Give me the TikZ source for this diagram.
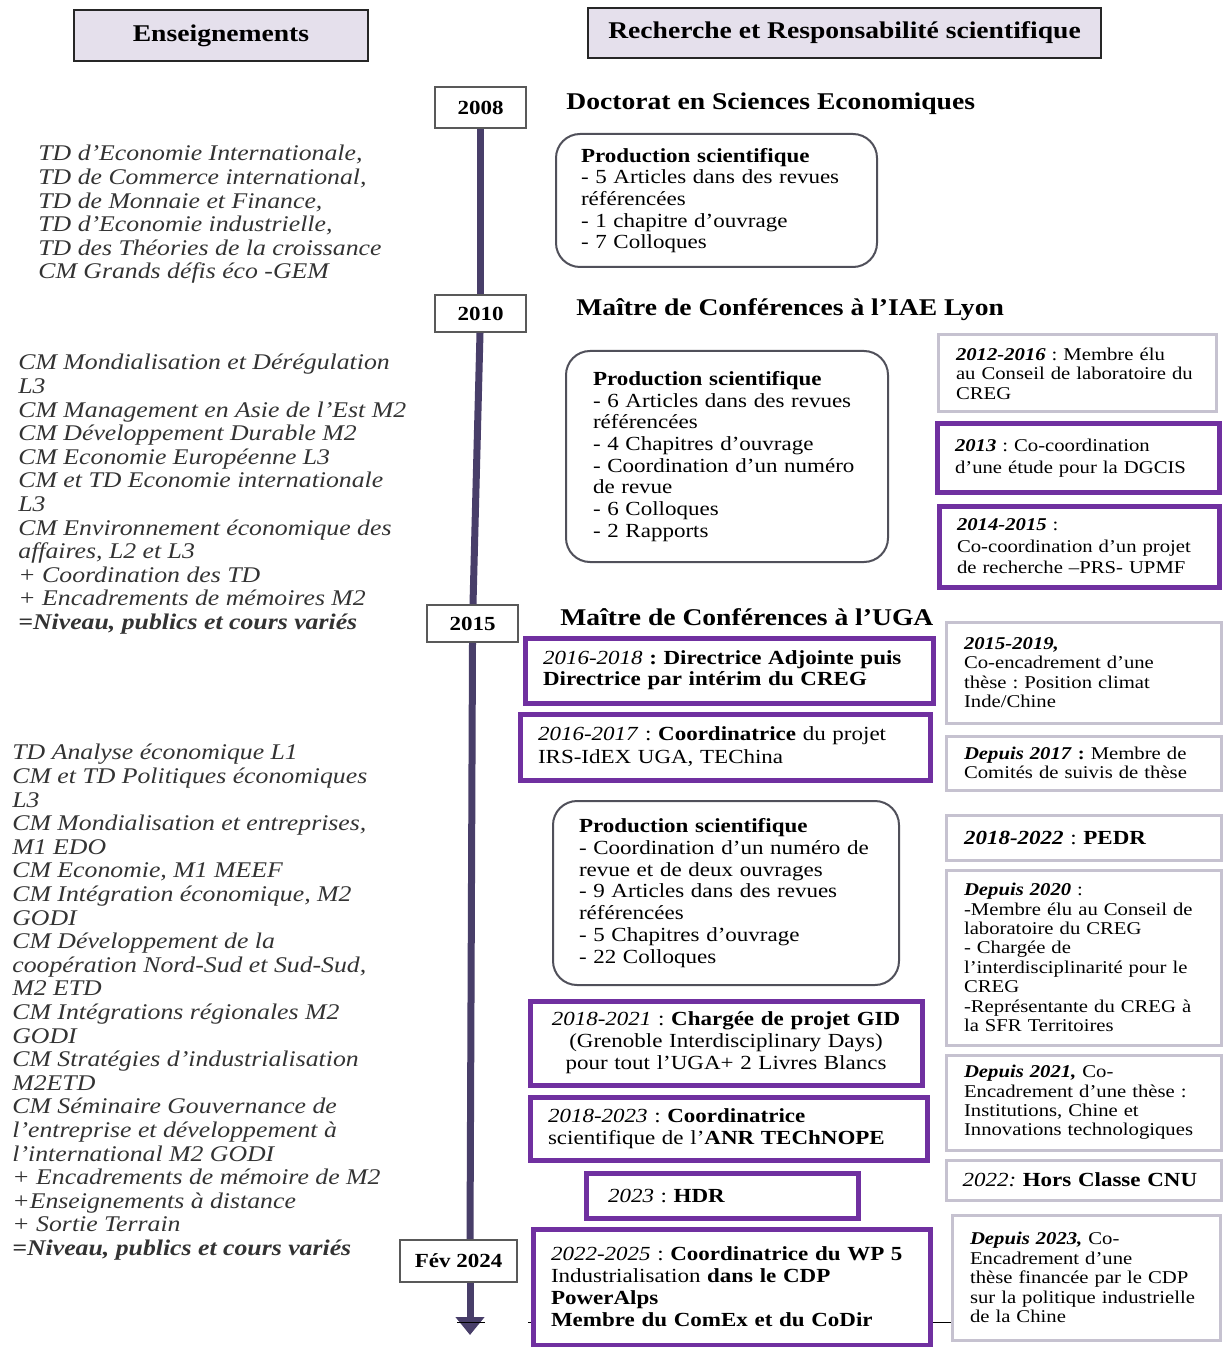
\documentclass[tikz,border=0pt]{standalone}
\usepackage{fontspec}
\setmainfont{Liberation Serif}[FakeStretch=1.15]
\usepackage{xcolor}
\usepackage{tikz}
\usetikzlibrary{arrows.meta}
\frenchspacing
\tikzset{
    head box/.style={draw=black!85, line width=0.9pt, fill=headfill, font=\fontsize{12}{14}\selectfont\bfseries},
    year box/.style={draw=black!65, line width=0.8pt, fill=white, font=\fontsize{10}{12}\selectfont\bfseries},
    period title/.style={anchor=west, inner sep=0pt, font=\fontsize{12}{14}\selectfont\bfseries},
    prod box/.style={draw=prodcolor, line width=1pt, rounded corners=12pt, fill=white, align=left, font=\fontsize{10}{10.85}\selectfont},
    duty box/.style={draw=dutycolor, line width=2.5pt, fill=white, align=left, inner xsep=9pt, font=\fontsize{10}{11}\selectfont},
    role box/.style={draw=rolecolor, line width=1.5pt, fill=white, align=left, inner xsep=9pt, font=\fontsize{9}{9.7}\selectfont},
    small text/.style={font=\fontsize{9}{10.7}\selectfont},
    big text/.style={font=\fontsize{10}{12}\selectfont},
    course list/.style={anchor=north west, inner sep=0pt, align=left, text=black!80, font=\fontsize{11.2}{11.8}\selectfont\itshape},
    timeline/.style={line width=3.5pt, draw=timecolor},
    timeline end/.style={timeline, -{Triangle[width=14pt,length=9pt]}},
    link line/.style={line width=0.5pt, black}
}
\definecolor{headfill}{RGB}{229, 224, 236}
\definecolor{timecolor}{RGB}{72, 62, 105}
\definecolor{prodcolor}{RGB}{80, 80, 90}
\definecolor{dutycolor}{RGB}{112, 48, 160}
\definecolor{rolecolor}{RGB}{198, 194, 208}

\begin{document}
\begin{tikzpicture}[x=0.5pt, y=-0.5pt]
    \useasboundingbox (0,0) rectangle (1223,1347);

    % Column headers
    \node[head box, minimum width=147pt, minimum height=25.5pt] (hTeach) at (221,35.5) {Enseignements};
    \node[head box, minimum width=256.5pt, minimum height=25pt] (hResearch) at (844.5,33) {Recherche et Responsabilité scientifique};

    % Year boxes on the time axis
    \node[year box, minimum width=45.5pt, minimum height=20.5pt] (y2008) at (480.5,107.5) {2008};
    \node[year box, minimum width=45.5pt, minimum height=18.5pt] (y2010) at (480.5,313.5) {2010};
    \node[year box, minimum width=45.5pt, minimum height=18.5pt] (y2015) at (472.5,623.5) {2015};
    \node[year box, minimum width=58.5pt, minimum height=21pt] (yFeb) at (458.5,1261) {Fév 2024};
    \coordinate (tEnd) at (470,1335);

    % Time axis
    \draw[timeline] (y2008) -- (y2010);
    \draw[timeline] (y2010) -- (y2015);
    \draw[timeline] (y2015.south) -- (yFeb.north -| tEnd);
    \draw[timeline end] (yFeb.south -| tEnd) -- (tEnd);

    % Period titles
    \node[period title] (tDoctorat) at (566,104) {Doctorat en Sciences Economiques};
    \node[period title] (tLyon) at (576,310) {Maître de Conférences à l’IAE Lyon};
    \node[period title] (tUGA) at (560,617) {Maître de Conférences à l’UGA};

    % Teaching lists
    \node[course list] (teach08) at (38,145) {TD d’Economie Internationale,\\TD de Commerce international,\\TD de Monnaie et Finance,\\TD d’Economie industrielle,\\TD des Théories de la croissance\\CM Grands défis éco -GEM};
    \node[course list] (teach10) at (18,354) {CM Mondialisation et Dérégulation\\L3\\CM Management en Asie de l’Est M2\\CM Développement Durable M2\\CM Economie Européenne L3\\CM et TD Economie internationale\\L3\\CM Environnement économique des\\affaires, L2 et L3\\+ Coordination des TD\\+ Encadrements de mémoires M2\\\textbf{=Niveau, publics et cours variés}};
    \node[course list] (teach15) at (12,744) {TD Analyse économique L1\\CM et TD Politiques économiques\\L3\\CM Mondialisation et entreprises,\\M1 EDO\\CM Economie, M1 MEEF\\CM Intégration économique, M2\\GODI\\CM Développement de la\\coopération Nord-Sud et Sud-Sud,\\M2 ETD\\CM Intégrations régionales M2\\GODI\\CM Stratégies d’industrialisation\\M2ETD\\CM Séminaire Gouvernance de\\l’entreprise et développement à\\l’international M2 GODI\\+ Encadrements de mémoire de M2\\+Enseignements à distance\\+ Sortie Terrain\\\textbf{=Niveau, publics et cours variés}};

    % Scientific production
    \node[prod box, minimum width=160.5pt, minimum height=66.5pt, inner xsep=12.5pt, text width=135.5pt] (prod08) at (716.5,200.5) {\textbf{Production scientifique}\\- 5 Articles dans des revues\\référencées\\- 1 chapitre d’ouvrage\\- 7 Colloques};
    \node[prod box, minimum width=161pt, minimum height=105.5pt, inner xsep=13.5pt, text width=134pt] (prod10) at (727,456.5) {\textbf{Production scientifique}\\- 6 Articles dans des revues\\référencées\\- 4 Chapitres d’ouvrage\\- Coordination d’un numéro\\de revue\\- 6 Colloques\\- 2 Rapports};
    \node[prod box, minimum width=173pt, minimum height=92pt, inner xsep=13pt, text width=147pt] (prod15) at (726,893) {\textbf{Production scientifique}\\- Coordination d’un numéro de\\revue et de deux ouvrages\\- 9 Articles dans des revues\\référencées\\- 5 Chapitres d’ouvrage\\- 22 Colloques};

    % Responsibilities (grey frames)
    \node[role box, minimum width=139pt, minimum height=38.5pt, text width=121pt] (role1216) at (1077,373.5) {\textbf{\textit{2012-2016}} : Membre élu\\au Conseil de laboratoire du\\CREG};
    \node[role box, minimum width=137.5pt, minimum height=50.5pt, text width=119.5pt] (role1519) at (1083.5,672.5) {\textbf{\textit{2015-2019,}}\\Co-encadrement d’une\\thèse : Position climat\\Inde/Chine};
    \node[role box, minimum width=137.5pt, minimum height=27pt, text width=119.5pt] (role17) at (1083.5,763) {\textbf{\textit{Depuis 2017} :} Membre de\\Comités de suivis de thèse};
    \node[role box, big text, minimum width=137.5pt, minimum height=22.5pt, text width=119.5pt] (rolePEDR) at (1083.5,837.5) {\textbf{\textit{2018-2022}} : \textbf{PEDR}};
    \node[role box, minimum width=137.5pt, minimum height=87.5pt, text width=119.5pt] (role20) at (1083.5,957.5) {\textbf{\textit{Depuis 2020}} :\\-Membre élu au Conseil de\\laboratoire du CREG\\- Chargée de\\l’interdisciplinarité pour le\\CREG\\-Représentante du CREG à\\la SFR Territoires};
    \node[role box, minimum width=137.5pt, minimum height=47.5pt, text width=119.5pt] (role21) at (1083.5,1102.5) {\textbf{\textit{Depuis 2021,}} Co-\\Encadrement d’une thèse :\\Institutions, Chine et\\Innovations technologiques};
    \node[role box, big text, minimum width=137.5pt, minimum height=20pt, text width=121pt, inner xsep=8.25pt] (roleHC) at (1083.5,1180) {\textit{2022:} \textbf{Hors Classe CNU}};
    \node[role box, minimum width=134pt, minimum height=62.5pt, text width=116pt] (role23) at (1086,1277.5) {\textbf{\textit{Depuis 2023,}} Co-\\Encadrement d’une\\thèse financée par le CDP\\sur la politique industrielle\\de la Chine};

    % Responsibilities (purple frames)
    \node[duty box, small text, minimum width=141pt, minimum height=34pt, text width=123pt] (duty13) at (1078,458) {\textbf{\textit{2013}} : Co-coordination\\d’une étude pour la DGCIS};
    \node[duty box, small text, minimum width=140pt, minimum height=40.5pt, text width=122pt] (duty1415) at (1079,546.5) {\textbf{\textit{2014-2015}} :\\Co-coordination d’un projet\\de recherche –PRS- UPMF};
    \node[duty box, minimum width=204pt, minimum height=32.5pt, inner xsep=9pt, text width=186pt, font=\fontsize{10}{10.5}\selectfont] (duty1618) at (729,670.5) {\textit{2016-2018} \textbf{: Directrice Adjointe puis}\\\textbf{Directrice par intérim du CREG}};
    \node[duty box, minimum width=205pt, minimum height=33pt, text width=187pt, font=\fontsize{10}{11.5}\selectfont] (duty1617) at (725,747) {\textit{2016-2017} : \textbf{Coordinatrice} du projet\\IRS-IdEX UGA, TEChina};
    \node[duty box, minimum width=196pt, minimum height=42pt, text width=178pt, align=center] (duty1821) at (726,1043) {\textit{2018-2021} : \textbf{Chargée de projet GID}\\(Grenoble Interdisciplinary Days)\\pour tout l’UGA+ 2 Livres Blancs};
    \node[duty box, minimum width=198.5pt, minimum height=31.5pt, text width=180.5pt] (duty1823) at (728.5,1128.5) {\textit{2018-2023} : \textbf{Coordinatrice}\\scientifique de l’\textbf{ANR TEChNOPE}};
    \node[duty box, minimum width=136pt, minimum height=22.5pt, text width=118pt, inner xsep=9pt] (dutyHDR) at (722,1195.5) {\hspace*{2pt}\textit{2023} : \textbf{HDR}};

    % Faint link under the last box
    \coordinate (linkL) at (528,1322);
    \coordinate (tickL) at (457,1322);
    \coordinate (tickR) at (485,1322);
    \draw[link line] (linkL) -- (linkL -| role23.west);
    \draw[link line] (tickL) -- (tickR);

    \node[duty box, minimum width=198.5pt, minimum height=58pt, text width=180.5pt] (duty2225) at (731.5,1287) {\textit{2022-2025} : \textbf{Coordinatrice du WP 5}\\Industrialisation \textbf{dans le CDP}\\\textbf{PowerAlps}\\\textbf{Membre du ComEx et du CoDir}};
\end{tikzpicture}
\end{document}
